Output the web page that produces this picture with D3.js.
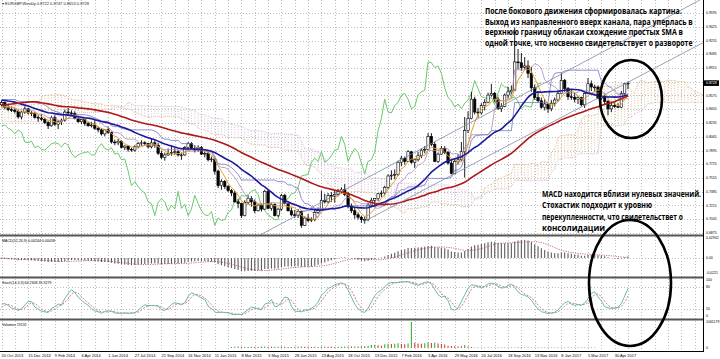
<!DOCTYPE html>
<html><head><meta charset="utf-8">
<script src="https://cdn.jsdelivr.net/npm/d3@7/dist/d3.min.js"></script>
<style>body{margin:0;background:#fff}svg{display:block}</style>
</head><body><svg id="c" width="720" height="359"></svg>
<script>
// ---------- DATA (EURGBP weekly, first bar = week of 20 Oct 2013) ----------
const open = [.8460,.8490,.8425,.8400,.8395,.8380,.8310,.8370,.8410,.8360,
.8350,.8305,.8295,.8280,.8240,.8200,.8300,.8220,.8250,.8270,
.8370,.8360,.8350,.8290,.8250,.8280,.8230,.8200,.8210,.8170,
.8150,.8100,.8150,.8120,.8000,.7990,.8010,.7930,.7950,.7910,
.7900,.7940,.7980,.7990,.7980,.7940,.7990,.7960,.7860,.7810,
.7840,.7860,.7870,.7880,.7840,.7840,.7930,.7980,.7920,.7900,
.7930,.7850,.7860,.7780,.7790,.7640,.7460,.7510,.7450,.7400,
.7370,.7260,.7240,.7090,.7250,.7300,.7260,.7150,.7220,.7170,
.7390,.7180,.7230,.7090,.7170,.7340,.7240,.7150,.7100,.7090,
.7140,.6970,.7060,.7030,.7040,.7130,.7160,.7280,.7260,.7340,
.7330,.7350,.7390,.7410,.7350,.7210,.7150,.7100,.7070,.7040,
.7040,.7220,.7280,.7300,.7360,.7370,.7440,.7580,.7590,.7600,
.7750,.7800,.7760,.7880,.7750,.7780,.7830,.7900,.7910,.8070,
.7970,.7760,.7850,.7920,.7870,.7740,.7610,.7760,.7780,.7880,
.8140,.8290,.8530,.8370,.8360,.8450,.8490,.8580,.8600,.8530,
.8410,.8440,.8580,.8620,.8640,.8990,.8980,.8920,.8940,.8850,
.8670,.8550,.8510,.8430,.8470,.8410,.8480,.8520,.8600,.8760,
.8660,.8560,.8550,.8530,.8550,.8460,.8600,.8720,.8680,.8680,
.8540,.8560,.8500,.8410,.8450,.8440,.8430,.8600,.8722];
const high = [.8515,.8500,.8475,.8435,.8420,.8395,.8385,.8440,.8420,.8380,
.8370,.8330,.8340,.8300,.8260,.8320,.8330,.8270,.8290,.8400,
.8420,.8390,.8380,.8320,.8290,.8300,.8250,.8250,.8270,.8190,
.8170,.8160,.8190,.8130,.8030,.8040,.8020,.7960,.7960,.7930,
.7960,.8000,.8020,.8010,.7990,.8040,.8020,.7990,.7890,.7870,
.7920,.7960,.7930,.7900,.7870,.7950,.8000,.8000,.7960,.7960,
.7950,.7880,.7880,.7820,.7800,.7660,.7540,.7530,.7470,.7420,
.7400,.7300,.7250,.7280,.7340,.7330,.7290,.7230,.7240,.7410,
.7420,.7250,.7240,.7190,.7360,.7360,.7250,.7190,.7160,.7170,
.7150,.7080,.7110,.7070,.7160,.7190,.7400,.7360,.7370,.7380,
.7400,.7420,.7440,.7480,.7380,.7240,.7190,.7130,.7090,.7080,
.7250,.7310,.7300,.7370,.7400,.7460,.7600,.7650,.7660,.7770,
.7830,.7820,.7900,.7890,.7790,.7880,.7920,.7950,.8110,.8110,
.8000,.7870,.7950,.7950,.7890,.7770,.7800,.7850,.8000,.8310,
.8380,.8620,.8560,.8420,.8480,.8530,.8610,.8720,.8620,.8560,
.8480,.8600,.8680,.8700,.9415,.9150,.9100,.9050,.9010,.8930,
.8710,.8610,.8550,.8530,.8480,.8520,.8550,.8640,.8850,.8780,
.8680,.8650,.8610,.8570,.8560,.8610,.8790,.8760,.8710,.8700,
.8610,.8580,.8520,.8500,.8490,.8480,.8630,.8730,.8747];
const low = [.8440,.8405,.8380,.8370,.8355,.8290,.8280,.8350,.8340,.8320,
.8290,.8250,.8260,.8220,.8160,.8190,.8200,.8160,.8210,.8250,
.8330,.8330,.8280,.8240,.8220,.8200,.8190,.8180,.8150,.8120,
.8080,.8070,.8100,.7980,.7960,.7960,.7920,.7900,.7880,.7880,
.7880,.7920,.7950,.7960,.7920,.7920,.7930,.7840,.7790,.7770,
.7830,.7830,.7840,.7820,.7780,.7830,.7900,.7910,.7870,.7880,
.7840,.7810,.7760,.7750,.7600,.7430,.7410,.7420,.7380,.7330,
.7250,.7180,.7060,.7080,.7230,.7200,.7120,.7140,.7140,.7160,
.7170,.7150,.7080,.7070,.7150,.7230,.7140,.7080,.7060,.7060,
.6940,.6960,.7010,.7010,.7020,.7110,.7150,.7240,.7240,.7260,
.7250,.7330,.7360,.7330,.7180,.7120,.7050,.7040,.7000,.6990,
.7020,.7190,.7200,.7270,.7320,.7340,.7420,.7530,.7540,.7580,
.7700,.7720,.7750,.7730,.7680,.7760,.7800,.7860,.7900,.7950,
.7750,.7740,.7840,.7850,.7720,.7600,.7600,.7720,.7760,.7560,
.8110,.8280,.8340,.8300,.8340,.8390,.8480,.8560,.8490,.8400,
.8370,.8430,.8540,.8590,.8630,.8900,.8880,.8900,.8790,.8620,
.8520,.8490,.8410,.8390,.8360,.8380,.8440,.8500,.8590,.8620,
.8520,.8520,.8490,.8470,.8440,.8420,.8590,.8630,.8620,.8530,
.8520,.8470,.8330,.8370,.8420,.8420,.8420,.8580,.8653];
const close = [.8490,.8425,.8400,.8395,.8380,.8310,.8370,.8410,.8360,.8350,
.8305,.8295,.8280,.8240,.8200,.8300,.8220,.8250,.8270,.8370,
.8360,.8350,.8290,.8250,.8280,.8230,.8200,.8210,.8170,.8150,
.8100,.8150,.8120,.8000,.7990,.8010,.7930,.7950,.7910,.7900,
.7940,.7980,.7990,.7980,.7940,.7990,.7960,.7860,.7810,.7840,
.7860,.7870,.7880,.7840,.7840,.7930,.7980,.7920,.7900,.7930,
.7850,.7860,.7780,.7790,.7640,.7460,.7510,.7450,.7400,.7370,
.7260,.7240,.7090,.7250,.7300,.7260,.7150,.7220,.7170,.7390,
.7180,.7230,.7090,.7170,.7340,.7240,.7150,.7100,.7090,.7140,
.6970,.7060,.7030,.7040,.7130,.7160,.7280,.7260,.7340,.7330,
.7350,.7390,.7410,.7350,.7210,.7150,.7100,.7070,.7040,.7040,
.7220,.7280,.7300,.7360,.7370,.7440,.7580,.7590,.7600,.7750,
.7800,.7760,.7880,.7750,.7780,.7830,.7900,.7910,.8070,.7970,
.7760,.7850,.7920,.7870,.7740,.7610,.7760,.7780,.7880,.8140,
.8290,.8530,.8370,.8360,.8450,.8490,.8580,.8600,.8530,.8410,
.8440,.8580,.8620,.8640,.8990,.8980,.8920,.8940,.8850,.8670,
.8550,.8510,.8430,.8470,.8410,.8480,.8520,.8600,.8760,.8660,
.8560,.8550,.8530,.8550,.8460,.8600,.8720,.8680,.8680,.8540,
.8560,.8500,.8410,.8450,.8440,.8430,.8600,.8720,.8728];
// weeks before the first visible bar (Apr 2012 - Oct 2013), used only for indicator warm-up
const histClose = [.8170,.8130,.8030,.8040,.7990,.8020,.8100,.8060,.8060,.8070,
.7950,.7900,.7850,.7790,.7880,.7860,.7850,.7930,.7930,.7960,
.8010,.8000,.7980,.8060,.8070,.8070,.8090,.8020,.8030,.8010,
.8080,.8080,.8120,.8100,.8130,.8140,.8170,.8150,.8340,.8480,
.8640,.8530,.8600,.8660,.8680,.8670,.8600,.8530,.8440,.8490,
.8500,.8580,.8450,.8460,.8430,.8460,.8530,.8540,.8490,.8540,
.8510,.8560,.8580,.8650,.8640,.8600,.8680,.8620,.8550,.8560,
.8520,.8460,.8390,.8370,.8380,.8390,.8410,.8460];
const histHigh = [.8230,.8190,.8140,.8070,.8060,.8050,.8120,.8130,.8110,.8100,
.8080,.7960,.7920,.7870,.7900,.7910,.7880,.7940,.7960,.7990,
.8030,.8100,.8030,.8070,.8100,.8120,.8130,.8100,.8060,.8060,
.8100,.8120,.8140,.8140,.8170,.8180,.8200,.8220,.8380,.8490,
.8660,.8710,.8630,.8710,.8740,.8720,.8730,.8680,.8570,.8500,
.8540,.8620,.8580,.8500,.8470,.8480,.8560,.8580,.8560,.8560,
.8590,.8620,.8600,.8720,.8690,.8660,.8700,.8700,.8640,.8600,
.8580,.8540,.8470,.8440,.8430,.8430,.8470,.8480];
const histLow = [.8140,.8100,.8000,.7990,.7950,.7970,.7990,.8030,.8020,.8010,
.7920,.7880,.7820,.7760,.7770,.7840,.7830,.7830,.7900,.7910,
.7950,.7990,.7960,.7970,.8030,.8050,.8040,.8010,.7990,.7990,
.7990,.8060,.8050,.8060,.8080,.8110,.8110,.8120,.8140,.8310,
.8470,.8520,.8500,.8560,.8610,.8580,.8580,.8510,.8420,.8400,
.8450,.8480,.8430,.8430,.8390,.8400,.8420,.8480,.8460,.8480,
.8490,.8500,.8520,.8570,.8600,.8580,.8570,.8600,.8530,.8530,
.8500,.8440,.8370,.8350,.8330,.8350,.8380,.8390];
const volume = [0,0,0,0,0,0,0,0,0,0, 0,0,0,0,0,0,0,0,0,0,
0,0,0,0,0,0,0,0,0,0, 0,0,0,0,0,0,0,0,0,0,
0,0,0,0,0,0,0,0,0,0, 0,0,0,0,0,0,0,0,0,0,
0,0,0,0,0,0,0,0,0,42000, 55000,61000,48000,52000,45000,50000,47000,44000,58000,63000,
52000,46000,49000,51000,60000,47000,45000,43000,50000,48000,
62000,55000,47000,41000,46000,44000,66000,53000,50000,47000,
45000,49000,52000,58000,61000,57000,64000,59000,70000,68000,
95000,120000,135000,110000,90000,150000,170000,160000,175000,190000,
165000,155000,180000,1061179,210000,180000,170000,195000,230000,200000,
215000,185000,160000,140000,90000,85000,70000,65000,80000,120000,
60000,45000,22000,18000,21000,17000,24000,19000,23000,20000,
16000,22000,25000,18000,21000,30000,26000,20000,19000,17000,
22000,18000,16000,21000,19000,23000,20000,18000,24000,21000,
17000,19000,22000,20000,18000,21000,23000,19000,19131];
const priceTicks = ["0.9595","0.9425","0.9255","0.9085","0.8915","0.8745","0.8575","0.8405","0.8235",
"0.8065","0.7895","0.7725","0.7555","0.7385","0.7215","0.7045","0.6875"];
const macdTicks = ["0.02942","0.00","-0.0221"];
const stochTicks = ["100","80","20","0"];
const volTicks = ["1061179","0"];
const dateLabels = ["20 Oct 2013","15 Dec 2013","9 Feb 2014","6 Apr 2014","1 Jun 2014","27 Jul 2014",
"21 Sep 2014","16 Nov 2014","11 Jan 2015","8 Mar 2015","3 May 2015","28 Jun 2015","23 Aug 2015",
"18 Oct 2015","13 Dec 2015","7 Feb 2016","3 Apr 2016","29 May 2016","24 Jul 2016","18 Sep 2016",
"13 Nov 2016","8 Jan 2017","5 Mar 2017","30 Apr 2017"];
const titleText = "EURGBP,Weekly  0.8722 0.8747 0.8653 0.8728";
const macdTitle = "MACD(12,26,9) 0.00244 0.00058";
const stochTitle = "Stoch(14,3,3) 64.2308 35.9279";
const volTitle = "Volumes 19131";
const currentPrice = 0.8728;
const stochK = 14, stochD = 3, stochSlow = 3;
// channel anchors: [bar index, price]
const channelUpper = [[77.6, 0.685], [209.6, 0.9756]];
const channelLower = [[108.6, 0.7013], [210.6, 0.9230]];
const note1 = ["После бокового движения сформировалась картина.",
"Выход из направленного вверх канала, пара уперлась в",
"верхнюю границу облакаи схождение простых SMA в",
"одной точке, что носвенно свидетельствует о развороте"];
const note1W = [197,208,198,208];
const note2 = ["MACD находится вблизи нулевых значений.","Стохастик подходит к уровню",
"перекупленности, что свидетельствет о","консолидации"];
const note2W = [159,110,141,63];

// ---------- SETUP ----------
const svg = d3.select("#c");
const AX = 703;
const N = close.length, HN = histClose.length;
const C = histClose.concat(close), HH = histHigh.concat(high), LL = histLow.concat(low);
const x = d3.scaleLinear().domain([0, 188]).range([1.5, 628]);
const yP = d3.scaleLinear().domain([0.6875, 0.9595]).range([233, 13]);
const yM = d3.scaleLinear().domain([-0.0221, 0.02942]).range([273, 238]);
const yS = d3.scaleLinear().domain([0, 100]).range([316, 280]);
const yV = d3.scaleLinear().domain([0, 1061179]).range([348, 322]);

const defs = svg.append("defs");
function clip(id, y0, h){ defs.append("clipPath").attr("id", id).append("rect").attr("x",0).attr("y",y0).attr("width",AX).attr("height",h); return `url(#${id})`; }
const cMain = clip("cm",0,235), cMacd = clip("cmacd",236.5,40), cSto = clip("csto",278,40.5), cVol = clip("cvol",320.5,31);

function sma(arr, p, k){ if (k-p+1 < 0) return null; let s=0; for(let j=k-p+1;j<=k;j++){ if(arr[j]==null) return null; s+=arr[j];} return s/p; }
function hhv(k,p){ let m=-Infinity; for(let j=Math.max(0,k-p+1);j<=k;j++) m=Math.max(m,HH[j]); return m; }
function llv(k,p){ let m=Infinity; for(let j=Math.max(0,k-p+1);j<=k;j++) m=Math.min(m,LL[j]); return m; }
const idx = d3.range(N);

// ---------- GRID ----------
const grid = svg.append("g").attr("stroke","#bdbdbd").attr("stroke-dasharray","1,2").attr("stroke-width",1);
for (let i=0; x(i) < AX; i+=4){
  const xx = Math.round(x(i))+0.5;
  grid.append("line").attr("x1",xx).attr("x2",xx).attr("y1",0).attr("y2",351);
}
priceTicks.forEach(t=>{ const yy=Math.round(yP(+t))+0.5; grid.append("line").attr("x1",0).attr("x2",AX).attr("y1",yy).attr("y2",yy); });
grid.append("line").attr("x1",0).attr("x2",AX).attr("y1",Math.round(yM(0))+0.5).attr("y2",Math.round(yM(0))+0.5);
[80,20].forEach(v=>{ const yy=Math.round(yS(v))+0.5; grid.append("line").attr("x1",0).attr("x2",AX).attr("y1",yy).attr("y2",yy); });

// ---------- MAIN PANEL ----------
const gMain = svg.append("g").attr("clip-path", cMain);
const tenkan = k => (hhv(k,9)+llv(k,9))/2;
const kijun = k => (hhv(k,26)+llv(k,26))/2;
const cloud = d3.range(0, N+26).map(i=>{ const k=i+HN-26; return {i, a:(tenkan(k)+kijun(k))/2, b:(hhv(k,52)+llv(k,52))/2}; });
gMain.append("g").selectAll("line").data(cloud).join("line")
  .attr("x1",d=>x(d.i)).attr("x2",d=>x(d.i)).attr("y1",d=>yP(d.a)).attr("y2",d=>yP(d.b))
  .attr("stroke",d=>d.a>=d.b?"#dcc09c":"#d2c2d4").attr("stroke-width",1).attr("stroke-dasharray","1,1.5");
const lineP = d3.line().defined(d=>d.v!=null).x(d=>x(d.i)).y(d=>yP(d.v));
gMain.append("path").attr("d",lineP(cloud.map(d=>({i:d.i,v:d.a})))).attr("fill","none").attr("stroke","#e2b888").attr("stroke-width",0.8).attr("stroke-dasharray","1,1");
gMain.append("path").attr("d",lineP(cloud.map(d=>({i:d.i,v:d.b})))).attr("fill","none").attr("stroke","#d0b0d0").attr("stroke-width",0.8).attr("stroke-dasharray","1,1");

const chikou = d3.range(0, N-26).map(i=>({i, v:close[i+26]}));
gMain.append("path").attr("d",lineP(chikou)).attr("fill","none").attr("stroke","#6cc86c").attr("stroke-width",1);

const cg = gMain.append("g");
idx.forEach(i=>{
  const xx = x(i), up = close[i] >= open[i];
  cg.append("line").attr("x1",xx).attr("x2",xx).attr("y1",yP(high[i])).attr("y2",yP(low[i])).attr("stroke","#000").attr("stroke-width",0.9);
  const y0 = yP(Math.max(open[i],close[i])), y1 = yP(Math.min(open[i],close[i]));
  cg.append("rect").attr("x",xx-1.2).attr("width",2.4).attr("y",y0).attr("height",Math.max(0.8,y1-y0))
    .attr("fill", up?"#fff":"#000").attr("stroke","#000").attr("stroke-width",0.6);
});

gMain.append("path").attr("d",lineP(idx.map(i=>({i,v:tenkan(i+HN)})))).attr("fill","none").attr("stroke","#b088b8").attr("stroke-width",0.8);
gMain.append("path").attr("d",lineP(idx.map(i=>({i,v:kijun(i+HN)})))).attr("fill","none").attr("stroke","#7474c4").attr("stroke-width",0.8);
[[5,"#e0a030",1],[21,"#1a1a9a",1.6],[50,"#b01818",1.6]].forEach(([p,col,w])=>{
  gMain.append("path").attr("d",lineP(idx.map(i=>({i,v:sma(C,p,i+HN)})))).attr("fill","none").attr("stroke",col).attr("stroke-width",w);
});

[channelUpper, channelLower].forEach(pts=>{
  gMain.append("line").attr("x1",x(pts[0][0])).attr("y1",yP(pts[0][1])).attr("x2",x(pts[1][0])).attr("y2",yP(pts[1][1]))
    .attr("stroke","#7d8aa8").attr("stroke-width",0.8);
});

// ---------- MACD ----------
function ema(arr,p){ const a=2/(p+1); const out=[arr[0]]; for(let j=1;j<arr.length;j++) out.push(a*arr[j]+(1-a)*out[j-1]); return out; }
const e12 = ema(C,12), e26 = ema(C,26);
const macd = C.map((v,j)=>e12[j]-e26[j]);
const gM = svg.append("g").attr("clip-path", cMacd);
gM.selectAll("line").data(idx).join("line").attr("x1",i=>x(i)).attr("x2",i=>x(i))
  .attr("y1",yM(0)).attr("y2",i=>yM(macd[i+HN])).attr("stroke","#5c5c5c").attr("stroke-width",1.1);
const lineM = d3.line().x(d=>x(d.i)).y(d=>yM(d.v));
gM.append("path").attr("d",lineM(idx.map(i=>({i,v:sma(macd,9,i+HN)})))).attr("fill","none").attr("stroke","#b05050").attr("stroke-width",0.8).attr("stroke-dasharray","1.2,1.2");

// ---------- STOCHASTIC ----------
const kRaw = C.map((v,k)=>{ if(k<stochK+stochSlow) return null; let a=0,b=0; for(let j=k-stochSlow+1;j<=k;j++){ a+=C[j]-llv(j,stochK); b+=hhv(j,stochK)-llv(j,stochK);} return b? a/b*100 : 50; });
const gS = svg.append("g").attr("clip-path", cSto);
const lineS = d3.line().defined(d=>d.v!=null).x(d=>x(d.i)).y(d=>yS(d.v));
gS.append("path").attr("d",lineS(idx.map(i=>({i,v:sma(kRaw,stochD,i+HN)})))).attr("fill","none").attr("stroke","#c06060").attr("stroke-width",0.8).attr("stroke-dasharray","2,1.5");
gS.append("path").attr("d",lineS(idx.map(i=>({i,v:kRaw[i+HN]})))).attr("fill","none").attr("stroke","#6cb8aa").attr("stroke-width",1);

// ---------- VOLUMES ----------
const gV = svg.append("g").attr("clip-path", cVol);
gV.selectAll("line").data(idx.filter(i=>volume[i]>0)).join("line").attr("x1",i=>x(i)).attr("x2",i=>x(i))
  .attr("y1",yV(0)).attr("y2",i=>yV(volume[i])).attr("stroke",i=> (i>0 && volume[i]>=volume[i-1])?"#3cab3c":"#d04040").attr("stroke-width",1.1);

// ---------- FRAMES / AXES ----------
const fr = svg.append("g");
[235.5, 277.5, 319.5].forEach(yy=> fr.append("line").attr("x1",0).attr("x2",AX).attr("y1",yy).attr("y2",yy).attr("stroke","#555").attr("stroke-width",2));
fr.append("line").attr("x1",AX+0.5).attr("x2",AX+0.5).attr("y1",0).attr("y2",352).attr("stroke","#000");
fr.append("line").attr("x1",0).attr("x2",AX+1).attr("y1",351.5).attr("y2",351.5).attr("stroke","#000");

const lab = svg.append("g").attr("font-family","Liberation Sans, Arial, sans-serif").attr("fill","#000");
const AFS = 3.5;
priceTicks.forEach(t=> lab.append("text").attr("x",AX+3).attr("y",yP(+t)+1.2).attr("font-size",AFS).text(t));
lab.append("rect").attr("x",AX+1).attr("y",yP(currentPrice)-2.8).attr("width",15).attr("height",5.6).attr("fill","#000");
lab.append("text").attr("x",AX+3).attr("y",yP(currentPrice)+1.3).attr("font-size",AFS).attr("fill","#fff").text(currentPrice.toFixed(4));
macdTicks.forEach(t=> lab.append("text").attr("x",AX+3).attr("y",yM(+t)+1.2).attr("font-size",AFS).text(t));
stochTicks.forEach(t=> lab.append("text").attr("x",AX+3).attr("y",yS(+t)+1.2).attr("font-size",AFS).text(t));
volTicks.forEach(t=> lab.append("text").attr("x",AX+3).attr("y",yV(+t)+1.2).attr("font-size",AFS).text(t));
dateLabels.forEach((t,k)=> lab.append("text").attr("x",x(k*8)).attr("y",357).attr("font-size",4.0).text(t));
lab.append("text").attr("x",2).attr("y",5).attr("font-size",4.0).attr("fill","#222").text("▾ "+titleText);
lab.append("text").attr("x",2).attr("y",241.5).attr("font-size",3.6).text(macdTitle);
lab.append("text").attr("x",2).attr("y",283.5).attr("font-size",3.6).text(stochTitle);
lab.append("text").attr("x",2).attr("y",325.5).attr("font-size",3.6).text(volTitle);

// ---------- ANNOTATIONS ----------
const ann = svg.append("g");
ann.append("ellipse").attr("cx",631).attr("cy",99).attr("rx",31).attr("ry",39).attr("fill","none").attr("stroke","#000").attr("stroke-width",2.6);
ann.append("ellipse").attr("cx",630).attr("cy",283).attr("rx",41).attr("ry",63).attr("fill","none").attr("stroke","#000").attr("stroke-width",2.6);
const tf = svg.append("g").attr("font-family","Liberation Sans Narrow, Arial Narrow, Open Sans, sans-serif").attr("font-weight","bold").attr("fill","#000");
function fitText(t, x0, y0, w, fs){
  const g = tf.append("g");
  const el = g.append("text").attr("x",0).attr("y",0).attr("font-size",fs).text(t);
  const len = el.node().getComputedTextLength() || w;
  g.attr("transform",`translate(${x0},${y0}) scale(${w/len},1)`);
}
note1.forEach((t,k)=> fitText(t, 485, 14.3+k*10.5, note1W[k], 8.6));
note2.forEach((t,k)=> fitText(t, 542, 196.5+k*11.5, note2W[k], 9.2));
</script></body></html>
